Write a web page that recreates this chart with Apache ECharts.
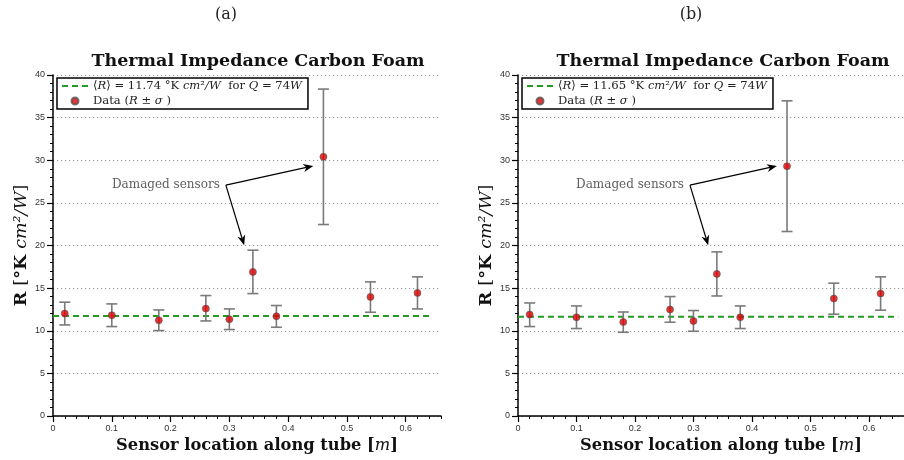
<!DOCTYPE html>
<html><head><meta charset="utf-8">
<script src="https://cdn.jsdelivr.net/npm/echarts@6/dist/echarts.min.js"></script>
<style>html,body{margin:0;padding:0;background:#fff}#c{width:904px;height:460px}</style>
</head><body><div id="c"></div>
<script>
// ---- data ----
const sensorX = [0.02, 0.10, 0.18, 0.26, 0.30, 0.34, 0.38, 0.46, 0.54, 0.62];
const rA  = [12.02, 11.82, 11.23, 12.60, 11.35, 16.90, 11.70, 30.40, 13.97, 14.44];
const hiA = [13.35, 13.15, 12.44, 14.13, 12.56, 19.45, 12.96, 38.35, 15.73, 16.32];
const loA = [10.68, 10.49, 10.02, 11.15, 10.14, 14.36, 10.41, 22.46, 12.17, 12.56];
const rB  = [11.90, 11.58, 11.03, 12.49, 11.15, 16.67, 11.58, 29.30, 13.78, 14.37];
const hiB = [13.26, 12.91, 12.20, 14.01, 12.37, 19.25, 12.91, 36.97, 15.58, 16.32];
const loB = [10.49, 10.26,  9.82, 11.00,  9.94, 14.08, 10.26, 21.64, 11.94, 12.41];
const meanA = 11.74, meanB = 11.65;
const meanEndA = 0.64, meanEndB = 0.65;
const powerQ = 74;
const panelLabels = ['(a)', '(b)'];
const chartTitle = 'Thermal Impedance Carbon Foam';
const annotText = 'Damaged sensors';
const annotStart = [0.294, 27.08];
const annotEnds = [[0.4427, 29.34], [0.3252, 20.04]];
const xMajorTicks = [0, 0.1, 0.2, 0.3, 0.4, 0.5, 0.6];
const xMinorTicks = [0.02,0.04,0.06,0.08,0.12,0.14,0.16,0.18,0.22,0.24,0.26,0.28,0.32,0.34,0.36,0.38,0.42,0.44,0.46,0.48,0.52,0.54,0.56,0.58,0.62,0.64,0.66];
const xMax = 0.66, yMax = 40, yStep = 5;

// ---- layout ----
const gridLefts = [53, 518];
const gridW = 388, gridTop = 75, gridH = 341;
const SERIF = 'DejaVu Serif';

const chart = echarts.init(document.getElementById('c'));

function axisPair(g) {
  return [{
    gridIndex: g, type: 'value', min: 0, max: xMax, position: 'bottom',
    axisLine: {show: true, onZero: false, lineStyle: {color: '#000', width: 1.5}},
    axisTick: {show: true, customValues: xMajorTicks, length: 6, lineStyle: {color: '#000', width: 1.2}},
    axisLabel: {show: true, customValues: xMajorTicks, fontSize: 9, color: '#333', fontFamily: 'Liberation Sans', margin: 8,
      formatter: v => String(+v.toFixed(2))},
    splitLine: {show: false},
    name: '{b|Sensor location along tube [}{i|m}{b|]}',
    nameLocation: 'middle', nameGap: 22,
    nameTextStyle: {padding: [0, 0, 0, 20], rich: {
      b: {fontFamily: SERIF, fontWeight: 'bold', fontSize: 16.3, color: '#111'},
      i: {fontFamily: SERIF, fontStyle: 'italic', fontSize: 16.3, color: '#111'}}}
  }, {
    gridIndex: g, type: 'value', min: 0, max: xMax, position: 'bottom',
    axisLine: {show: false},
    axisTick: {show: true, customValues: xMinorTicks, length: 3, lineStyle: {color: '#000', width: 1}},
    axisLabel: {show: false},
    splitLine: {show: false}
  }];
}
function yAxisFor(g) {
  return {
    gridIndex: g, type: 'value', min: 0, max: yMax, interval: yStep,
    axisLine: {show: true, lineStyle: {color: '#000', width: 1.5}},
    axisTick: {show: true, length: 6, lineStyle: {color: '#000', width: 1.2}},
    minorTick: {show: true, splitNumber: 5, length: 3, lineStyle: {color: '#000', width: 1}},
    axisLabel: {fontSize: 9, color: '#333', fontFamily: 'Liberation Sans', margin: 8},
    splitLine: {show: true, lineStyle: {color: '#999', width: 1, type: [1.2, 2.8]}},
    name: '{b|R }{n|[}{b|°K }{i|cm²/W}{n|]}',
    nameLocation: 'middle', nameGap: 23, nameRotate: 90,
    nameTextStyle: {rich: {
      b: {fontFamily: SERIF, fontWeight: 'bold', fontSize: 17.5, color: '#111'},
      n: {fontFamily: SERIF, fontSize: 17.5, color: '#111'},
      i: {fontFamily: SERIF, fontStyle: 'italic', fontSize: 17.5, color: '#111'}}}
  };
}

function errSeries(xi, yi, lo, hi) {
  return {
    type: 'custom', xAxisIndex: xi, yAxisIndex: yi, silent: true, z: 3,
    encode: {x: 0, y: [1, 2]},
    data: sensorX.map((x, i) => [x, lo[i], hi[i]]),
    renderItem(params, api) {
      const x = api.value(0);
      const a = api.coord([x, api.value(1)]);
      const b = api.coord([x, api.value(2)]);
      const w = 5.5;
      const st = {stroke: '#7a7a7a', lineWidth: 1.6};
      return {type: 'group', children: [
        {type: 'line', shape: {x1: a[0], y1: a[1], x2: b[0], y2: b[1]}, style: st},
        {type: 'line', shape: {x1: a[0] - w, y1: a[1], x2: a[0] + w, y2: a[1]}, style: st},
        {type: 'line', shape: {x1: b[0] - w, y1: b[1], x2: b[0] + w, y2: b[1]}, style: st}
      ]};
    }
  };
}

function arrowSeries(xi, yi) {
  return {
    type: 'custom', xAxisIndex: xi, yAxisIndex: yi, silent: true, z: 6,
    encode: {x: [0, 2], y: [1, 3]},
    data: annotEnds.map(e => [annotStart[0], annotStart[1], e[0], e[1]]),
    renderItem(params, api) {
      const p0 = api.coord([api.value(0), api.value(1)]);
      const p1 = api.coord([api.value(2), api.value(3)]);
      const dx = p1[0] - p0[0], dy = p1[1] - p0[1];
      const len = Math.hypot(dx, dy), ux = dx / len, uy = dy / len;
      const nx = -uy, ny = ux;
      const L = 10, W = 4, back = 7;
      const tip = p1;
      const base = [tip[0] - ux * L, tip[1] - uy * L];
      const notch = [tip[0] - ux * back, tip[1] - uy * back];
      return {type: 'group', children: [
        {type: 'line', shape: {x1: p0[0], y1: p0[1], x2: notch[0], y2: notch[1]},
          style: {stroke: '#000', lineWidth: 1.2}},
        {type: 'polygon', shape: {points: [tip,
          [base[0] + nx * W, base[1] + ny * W], notch,
          [base[0] - nx * W, base[1] - ny * W]]}, style: {fill: '#000'}}
      ]};
    }
  };
}

function panelSeries(p, r, lo, hi, mean, meanEnd) {
  const xi = p * 2, yi = p;
  const tag = p === 0 ? 'A' : 'B';
  return [
    {
      name: 'mean' + tag, type: 'line', xAxisIndex: xi, yAxisIndex: yi, z: 2,
      data: [[0, mean], [meanEnd, mean]], symbol: 'none', silent: true,
      lineStyle: {color: '#239b23', width: 2, type: [6, 4]},
      itemStyle: {color: '#239b23'}
    },
    errSeries(xi, yi, lo, hi),
    {
      name: 'data' + tag, type: 'scatter', xAxisIndex: xi, yAxisIndex: yi, z: 5,
      data: sensorX.map((x, i) => [x, r[i]]), symbolSize: 7,
      itemStyle: {color: '#e00000', borderColor: '#555', borderWidth: 0.8}
    },
    {
      type: 'scatter', xAxisIndex: xi, yAxisIndex: yi, z: 6, silent: true,
      data: [annotStart], symbolSize: 0,
      label: {show: true, position: 'left', distance: 6, formatter: annotText,
        fontFamily: SERIF, fontSize: 12, color: '#333'}
    },
    arrowSeries(xi, yi)
  ];
}

const legendRich = {
  t: {fontFamily: SERIF, fontSize: 11.6, color: '#222'},
  i: {fontFamily: SERIF, fontStyle: 'italic', fontSize: 11.6, color: '#222'}
};
function legendFmt(name) {
  if (name.startsWith('mean')) {
    const m = name === 'meanA' ? meanA : meanB;
    return '{t|⟨}{i|R}{t|⟩ = ' + m.toFixed(2) + ' °K }{i|cm}{t|²}{i|/W}{t|  for }{i|Q}{t| = ' + powerQ + '}{i|W}';
  }
  return '{t|Data (}{i|R}{t| ± }{i|σ}{t| )}';
}
function legendFor(p) {
  const tag = p === 0 ? 'A' : 'B';
  return {
    data: [{name: 'mean' + tag, itemStyle: {opacity: 0}}, {name: 'data' + tag, icon: 'circle'}],
    orient: 'vertical', left: gridLefts[p] + 4, top: 78,
    borderColor: '#000', borderWidth: 1.5, padding: [2, 6, 2, 4], itemGap: 3,
    itemWidth: 26, itemHeight: 7, selectedMode: false,
    formatter: legendFmt, textStyle: {rich: legendRich}
  };
}

const graphics = [];
[0, 1].forEach(p => {
  const cx = gridLefts[p] + gridW / 2;
  graphics.push({type: 'text', x: cx - 21, y: 15,
    style: {text: panelLabels[p], font: '16px "' + SERIF + '"', fill: '#222', textAlign: 'center', textVerticalAlign: 'middle'}});
  graphics.push({type: 'text', x: cx + 11, y: 61,
    style: {text: chartTitle, font: 'bold 17.5px "' + SERIF + '"', fill: '#111', textAlign: 'center', textVerticalAlign: 'middle'}});
});

chart.setOption({
  animation: false,
  backgroundColor: '#fff',
  grid: gridLefts.map(l => ({left: l, top: gridTop, width: gridW, height: gridH, containLabel: false})),
  xAxis: [...axisPair(0), ...axisPair(1)],
  yAxis: [yAxisFor(0), yAxisFor(1)],
  legend: [legendFor(0), legendFor(1)],
  graphic: graphics,
  series: [
    ...panelSeries(0, rA, loA, hiA, meanA, meanEndA),
    ...panelSeries(1, rB, loB, hiB, meanB, meanEndB)
  ]
});
</script>
</body></html>
